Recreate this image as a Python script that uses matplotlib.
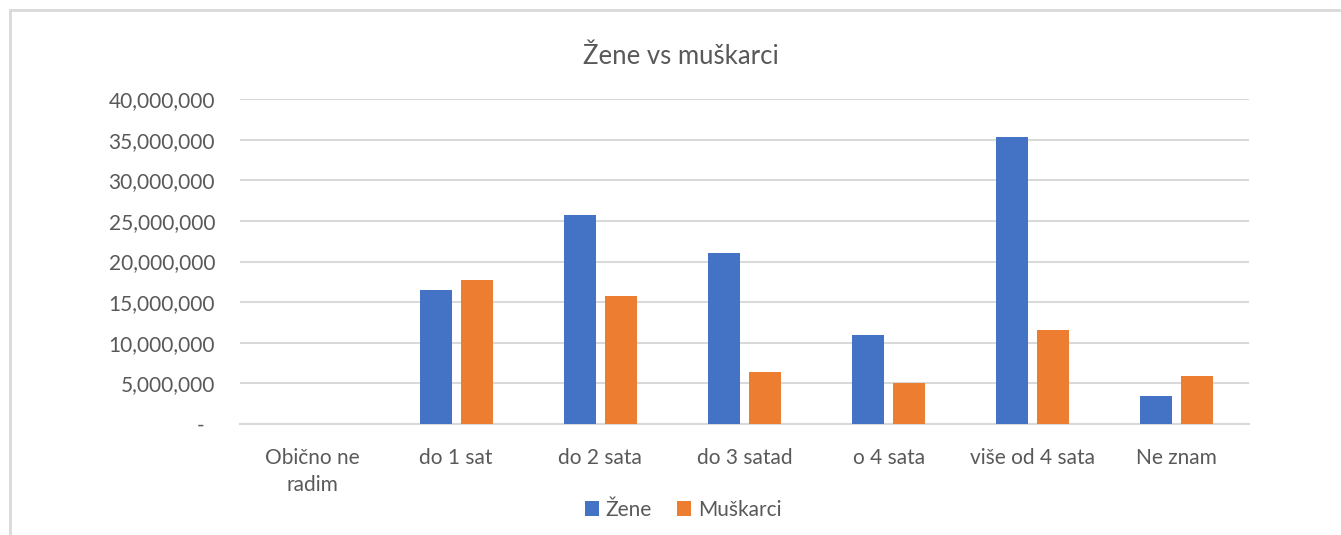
import numpy as np
import matplotlib.pyplot as plt
from matplotlib.patches import Rectangle
from matplotlib.ticker import FuncFormatter, MultipleLocator

categories = ["Obično ne\nradim", "do 1 sat", "do 2 sata", "do 3 satad",
              "o 4 sata", "više od 4 sata", "Ne znam"]
zene = [0, 16_500_000, 25_700_000, 21_100_000, 10_950_000, 35_300_000, 3_400_000]
muskarci = [0, 17_700_000, 15_700_000, 6_350_000, 5_050_000, 11_570_000, 5_870_000]
series_names = ["Žene", "Muškarci"]

blue = "#4472c4"
orange = "#ed7d31"
grey_text = "#595959"
grid_col = "#d9d9d9"

plt.rcParams['font.family'] = ['Lato', 'DejaVu Sans']

W, H = 1341, 535
fig = plt.figure(figsize=(W / 100, H / 100), dpi=100)

# chart frame
fig.patches.append(Rectangle((10 / W, -0.01), 1.0, (H - 10) / H + 0.01,
                             transform=fig.transFigure, facecolor="white",
                             edgecolor=grid_col, linewidth=2, zorder=-1))

ax = fig.add_axes([240 / W, 1 - 424 / H, (1249 - 240) / W, (424 - 99) / H])

x = np.arange(len(categories))
bw = 0.222
gap = 0.0625
ax.bar(x - (bw + gap) / 2, zene, bw, color=blue, label=series_names[0], zorder=3)
ax.bar(x + (bw + gap) / 2, muskarci, bw, color=orange, label=series_names[1], zorder=3)

ax.set_xlim(-0.5, len(categories) - 0.5)
ax.set_ylim(0, 40_000_000)
ax.yaxis.set_major_locator(MultipleLocator(5_000_000))
ax.yaxis.set_major_formatter(FuncFormatter(
    lambda v, p: "-  " if v == 0 else f"{int(v):,}"))
ax.grid(axis="y", color=grid_col, linewidth=1.5, zorder=0)
ax.set_axisbelow(True)

for s in ["top", "right", "left"]:
    ax.spines[s].set_visible(False)
ax.spines["bottom"].set_color(grid_col)
ax.spines["bottom"].set_linewidth(1.5)

ax.set_xticks(x)
ax.set_xticklabels(categories, linespacing=1.45)
ax.tick_params(axis="both", length=0, labelsize=15, colors=grey_text)
ax.tick_params(axis="y", pad=18)
ax.tick_params(axis="x", pad=17)

fig.text(681 / W, 1 - 57 / H, "Žene vs muškarci",
         ha="center", va="center", fontsize=18.5, color=grey_text)

leg = fig.legend(loc="center", bbox_to_anchor=(683 / W, 1 - 510 / H), ncol=2,
                 frameon=False, fontsize=15, handlelength=0.7, handleheight=0.7,
                 handletextpad=0.3, columnspacing=1.2, labelcolor=grey_text)

fig.savefig("out.png", dpi=100)
